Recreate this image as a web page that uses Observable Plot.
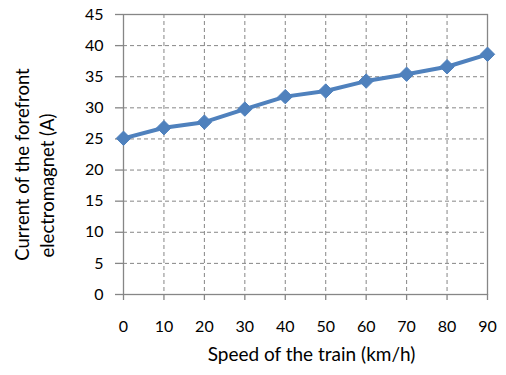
<!DOCTYPE html>
<html>
<head>
<meta charset="utf-8">
<script src="https://cdn.jsdelivr.net/npm/d3@7"></script>
<script src="https://cdn.jsdelivr.net/npm/@observablehq/plot@0.6"></script>
<style>
  html, body { margin: 0; padding: 0; background: #fff; }
  #chart svg { display: block; }
</style>
</head>
<body>
<div id="chart"></div>
<script>
const speeds = [0, 10, 20, 30, 40, 50, 60, 70, 80, 90];
const currents = [25.1, 26.8, 27.7, 29.8, 31.8, 32.7, 34.3, 35.4, 36.6, 38.6];
const xTicks = [0, 10, 20, 30, 40, 50, 60, 70, 80, 90];
const yTicks = [0, 5, 10, 15, 20, 25, 30, 35, 40, 45];
const xTitle = "Speed of the train (km/h)";
const yTitleLines = ["Current of the forefront", "electromagnet (A)"];

const data = speeds.map((s, i) => ({speed: s, current: currents[i]}));
const gridColor = "#868686";
const lineColor = "#4F81BD";
const font = "Lato, 'Open Sans', sans-serif";

const chart = Plot.plot({
  width: 506,
  height: 375,
  marginLeft: 123,
  marginRight: 19,
  marginTop: 14,
  marginBottom: 81,
  style: {fontFamily: font, fontSize: "16px", color: "#000", background: "#fff"},
  x: {domain: [0, 90]},
  y: {domain: [0, 45]},
  marks: [
    Plot.ruleX(xTicks.slice(1, -1), {stroke: gridColor, strokeWidth: 1, strokeDasharray: "4,3"}),
    Plot.ruleY(yTicks.slice(1, -1), {stroke: gridColor, strokeWidth: 1, strokeDasharray: "4,3"}),
    Plot.frame({stroke: gridColor, strokeWidth: 1.3}),
    Plot.axisX({ticks: xTicks, tickSize: 6, tickPadding: 20, stroke: gridColor, strokeWidth: 1.3, label: null, fill: "#000", fontSize: 16}),
    Plot.axisY({ticks: yTicks, tickSize: 8, tickPadding: 12, stroke: gridColor, strokeWidth: 1.3, label: null, fill: "#000", fontSize: 16}),
    Plot.line(data, {x: "speed", y: "current", stroke: lineColor, strokeWidth: 4}),
    Plot.dot(data, {x: "speed", y: "current", symbol: "diamond2", r: 6.5, fill: lineColor, stroke: lineColor, strokeWidth: 1}),
    Plot.text([xTitle], {frameAnchor: "bottom", dx: 6, dy: 66, text: d => d, fontSize: 19, fill: "#000"}),
    Plot.text([yTitleLines[0]], {frameAnchor: "left", textAnchor: "middle", lineAnchor: "middle", rotate: -90, dx: -100, dy: 10, text: d => d, fontSize: 18.5, fill: "#000"}),
    Plot.text([yTitleLines[1]], {frameAnchor: "left", textAnchor: "middle", lineAnchor: "middle", rotate: -90, dx: -75, dy: 31, text: d => d, fontSize: 18.5, fill: "#000"})
  ]
});
document.getElementById("chart").appendChild(chart);
</script>
</body>
</html>
